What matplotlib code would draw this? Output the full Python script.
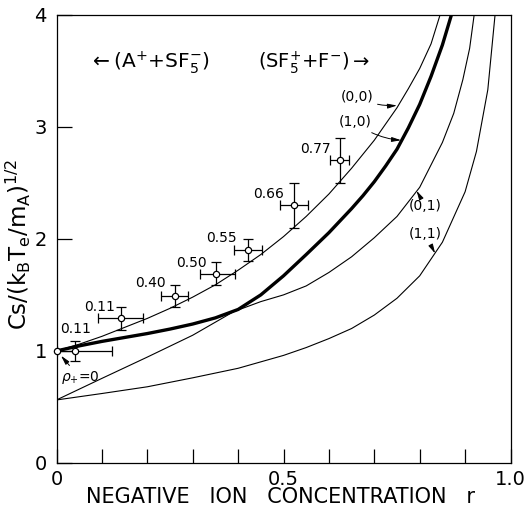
import matplotlib
matplotlib.use("Agg")
import matplotlib.pyplot as plt
from matplotlib.ticker import MultipleLocator, FixedLocator

# ---------------- data ----------------
# curve (0,0)  (thin, upper)
r_00 = [0, .05, .10, .15, .20, .25, .30, .35, .40, .45, .50, .55, .60, .65, .70, .75, .775, .80, .825, .845]
v_00 = [1.0, 1.06, 1.13, 1.21, 1.29, 1.38, 1.48, 1.59, 1.72, 1.86, 2.02, 2.20, 2.40, 2.63, 2.88, 3.17, 3.34, 3.52, 3.74, 4.0]

# curve (1,0)  (bold)
r_10 = [0, .05, .10, .15, .20, .25, .30, .35, .40, .45, .50, .55, .60, .65, .675, .70, .725, .75, .775, .80, .825, .85, .87]
v_10 = [1.0, 1.045, 1.085, 1.12, 1.155, 1.195, 1.24, 1.295, 1.37, 1.50, 1.67, 1.86, 2.055, 2.27, 2.385, 2.51, 2.65, 2.80, 2.99, 3.20, 3.45, 3.73, 4.0]

# curve (0,1)  (thin, middle)
r_01 = [0, .10, .20, .30, .39, .45, .50, .55, .60, .65, .70, .75, .80, .85, .875, .895, .91, .92]
v_01 = [.5625, .755, .945, 1.14, 1.35, 1.44, 1.50, 1.58, 1.70, 1.84, 2.01, 2.20, 2.46, 2.86, 3.12, 3.42, 3.70, 4.0]

# curve (1,1)  (thin, lowest)
r_11 = [0, .10, .20, .30, .40, .50, .55, .60, .65, .70, .75, .80, .85, .90, .925, .95, .966]
v_11 = [.5625, .62, .68, .76, .845, .96, 1.03, 1.11, 1.20, 1.32, 1.47, 1.67, 1.97, 2.42, 2.78, 3.33, 4.0]

# measured points
r_meas = [0.041, 0.141, 0.261, 0.352, 0.421, 0.523, 0.624]
v_meas = [1.00, 1.29, 1.49, 1.69, 1.90, 2.30, 2.70]
xerr_lo = [0.040, 0.049, 0.031, 0.036, 0.029, 0.031, 0.022]
xerr_hi = [0.081, 0.049, 0.029, 0.041, 0.032, 0.030, 0.020]
yerr = [0.09, 0.10, 0.10, 0.10, 0.095, 0.20, 0.20]
rho_labels = ['0.11', '0.11', '0.40', '0.50', '0.55', '0.66', '0.77']

r_ref = [0.0]
v_ref = [1.0]

x_major = [0, 0.5, 1.0]
x_major_labels = ['0', '0.5', '1.0']
y_major = [0, 1, 2, 3, 4]
y_major_labels = ['0', '1', '2', '3', '4']

# ---------------- figure ----------------
W, H = 526, 512
fig = plt.figure(figsize=(W / 100, H / 100), dpi=100)
ax = fig.add_axes([56.5 / W, 1 - 463 / H, 454 / W, 448.3 / H])
ax.set_xlim(0, 1.0)
ax.set_ylim(0, 4)

thin = 0.8
ax.plot(r_00, v_00, color='black', lw=thin)
ax.plot(r_10, v_10, color='black', lw=2.4, solid_capstyle='butt')
ax.plot(r_01, v_01, color='black', lw=thin)
ax.plot(r_11, v_11, color='black', lw=thin)

ax.errorbar(r_meas, v_meas, xerr=[xerr_lo, xerr_hi], yerr=yerr, fmt='o',
            ms=4.5, mfc='white', mec='black', mew=0.9, ecolor='black',
            elinewidth=0.9, capsize=3.6, capthick=0.9, zorder=5)
ax.plot(r_ref, v_ref, 'o', ms=4.5, mfc='white', mec='black', mew=0.9,
        clip_on=False, zorder=6)

# labels of the points (offsets in pixels -> points)
offs = [(0, 22), (-21, 11), (-25, 13), (-25, 11), (-26, 12), (-25, 11), (-24, 11)]
for x, y, t, (dx, dy) in zip(r_meas, v_meas, rho_labels, offs):
    ax.annotate(t, (x, y), xytext=(dx * 0.72, dy * 0.72), textcoords='offset points',
                ha='center', va='center', fontsize=10)

arrow = dict(arrowstyle='-|>,head_length=0.55,head_width=0.14', color='black',
             lw=0.7, shrinkA=1, shrinkB=0)
ax.annotate(r'$\rho_{+}$=0', xy=(0.004, 0.985), xytext=(0.052, 0.76),
            ha='center', va='center', fontsize=10,
            arrowprops=dict(arrow, shrinkB=3))
ax.annotate('(0,0)', xy=(0.750, 3.19), xytext=(0.662, 3.27), ha='center', va='center',
            fontsize=10, arrowprops=dict(arrow, connectionstyle='arc3,rad=0.15'))
ax.annotate('(1,0)', xy=(0.759, 2.88), xytext=(0.657, 3.04), ha='center', va='center',
            fontsize=10, arrowprops=dict(arrow, connectionstyle='arc3,rad=0.15'))
ax.annotate('(0,1)', xy=(0.793, 2.43), xytext=(0.812, 2.295), ha='center', va='center',
            fontsize=10, arrowprops=dict(arrow))
ax.annotate('(1,1)', xy=(0.834, 1.87), xytext=(0.812, 2.04), ha='center', va='center',
            fontsize=10, arrowprops=dict(arrow))

ax.text(0.204, 3.57, r'$\leftarrow$(A$^{+}$+SF$_{5}^{-}$)', ha='center', va='center', fontsize=14.5)
ax.text(0.566, 3.57, r'(SF$_{5}^{+}$+F$^{-}$)$\rightarrow$', ha='center', va='center', fontsize=14)

# axes styling
for s in ax.spines.values():
    s.set_linewidth(0.9)
ax.xaxis.set_major_locator(FixedLocator(x_major))
ax.set_xticklabels(x_major_labels)
ax.xaxis.set_minor_locator(MultipleLocator(0.1))
ax.yaxis.set_major_locator(FixedLocator(y_major))
ax.set_yticklabels(y_major_labels)
ax.tick_params(axis='both', which='both', direction='in', width=0.9, labelsize=14)
ax.tick_params(axis='x', which='both', length=10, pad=5)
ax.tick_params(axis='y', which='major', length=11, pad=7)
ax.tick_params(top=False, right=False)

fig.text(280 / W, 1 - 497 / H, 'NEGATIVE   ION   CONCENTRATION   r', ha='center', va='center',
         fontsize=15)
fig.text(18 / W, 1 - 245 / H,
         r'Cs/(k$_{\mathrm{B}}$T$_{\mathrm{e}}$/m$_{\mathrm{A}}$)$^{\mathrm{1/2}}$',
         rotation=90, ha='center', va='center', fontsize=16.5)

fig.savefig('out.png', dpi=100)
